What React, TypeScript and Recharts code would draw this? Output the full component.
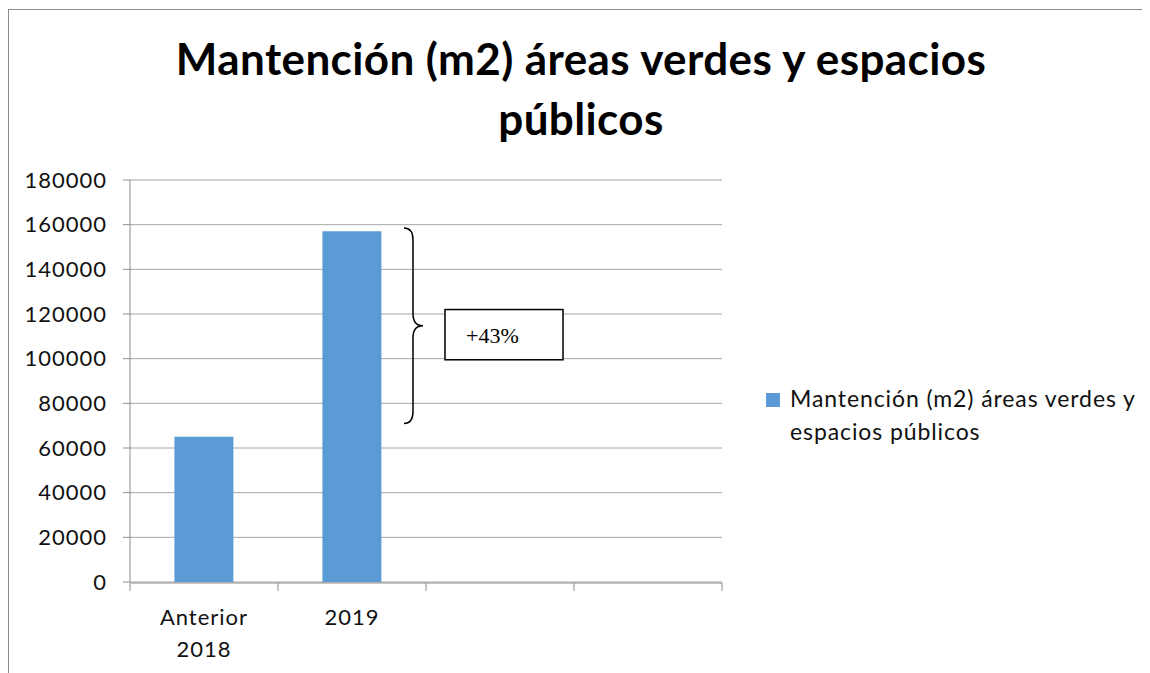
import React from "react";
import {
  BarChart,
  Bar,
  XAxis,
  YAxis,
  CartesianGrid,
  ReferenceArea,
} from "recharts";

const categories = ["Anterior 2018", "2019", "", ""];
const seriesName = "Mantención (m2) áreas verdes y espacios públicos";
const seriesValues = [65000, 157000, null, null];
const yTicks = [0, 20000, 40000, 60000, 80000, 100000, 120000, 140000, 160000, 180000];
const boundaryTicks = [0, 1, 2, 3, 4];
const titleLines = ["Mantención (m2) áreas verdes y espacios", "públicos"];
const legendLines = ["Mantención (m2) áreas verdes y", "espacios públicos"];
const annotationLabel = "+43%";
const braceRange = [71000, 158500];
const boxRange = [99500, 122000];

const BAR_COLOR = "#5B9BD5";
const GRID_COLOR = "#a6a6a6";
const AXIS_COLOR = "#8c8c8c";
const FONT = "Lato, 'Open Sans', sans-serif";

const data = categories.map((c, i) => ({ name: c, value: seriesValues[i], idx: i + 0.5 }));

const CatTick = (props: any) => {
  const { x, y, payload } = props;
  if (!payload || !payload.value) return null;
  const words = String(payload.value).split(" ");
  return (
    <text
      x={x}
      y={y}
      textAnchor="middle"
      fontSize={22}
      fontFamily={FONT}
      fill="#111"
      style={{ letterSpacing: 1 }}
    >
      {words.map((w, i) => (
        <tspan key={i} x={x} y={y + 43 + i * 32}>
          {w}
        </tspan>
      ))}
    </text>
  );
};

const EmptyTick = () => <g />;

const BraceShape = (props: any) => {
  const { x, y, height } = props;
  const top = y;
  const bot = y + height;
  const mid = (top + bot) / 2;
  const tx = x + 274;
  const sx = x + 283;
  const px = x + 293;
  const d = `M${tx},${top} Q${sx},${top} ${sx},${top + 12} L${sx},${mid - 12} Q${sx},${mid} ${px},${mid} Q${sx},${mid} ${sx},${mid + 12} L${sx},${bot - 12} Q${sx},${bot} ${tx},${bot}`;
  return <path d={d} fill="none" stroke="#000" strokeWidth={1.5} />;
};

const BoxShape = (props: any) => {
  const { x, y, height } = props;
  const bx = x + 315;
  const bw = 118;
  return (
    <g>
      <rect x={bx} y={y} width={bw} height={height} fill="#fff" stroke="#000" strokeWidth={1.5} />
      <text
        x={bx + 21}
        y={y + height / 2 + 8}
        fontSize={22}
        fontFamily="'Liberation Serif', 'Times New Roman', serif"
        fill="#000"
      >
        {annotationLabel}
      </text>
    </g>
  );
};

export default function App() {
  return (
    <div
      style={{
        position: "relative",
        width: 1142,
        height: 665,
        fontFamily: FONT,
      }}
    >
      <div
        style={{
          position: "absolute",
          left: -1,
          top: -19,
          fontSize: 20,
          lineHeight: "20px",
          color: "#111",
          fontFamily: FONT,
          whiteSpace: "nowrap",
        }}
      >
        territorial.
      </div>
      <div
        style={{
          position: "absolute",
          left: 0,
          top: 1,
          width: 1142,
          height: 664,
          borderLeft: "1.5px solid #8a8a8a",
          borderTop: "1.5px solid #8a8a8a",
          boxSizing: "border-box",
        }}
      />
      <div
        style={{
          position: "absolute",
          left: 4,
          top: 20,
          width: 1138,
          textAlign: "center",
          fontWeight: 700,
          fontSize: 44,
          letterSpacing: 0.4,
          lineHeight: "60px",
          color: "#000",
          fontFamily: FONT,
        }}
      >
        {titleLines.map((l, i) => (
          <div key={i}>{l}</div>
        ))}
      </div>
      <div style={{ position: "absolute", left: 0, top: 0 }}>
        <BarChart
          width={1142}
          height={665}
          data={data}
          margin={{ top: 172, right: 428, bottom: 89, left: 0 }}
          barCategoryGap="30%"
        >
          <CartesianGrid
            vertical={false}
            stroke={GRID_COLOR}
            xAxisId="cat"
            yAxisId="y"
          />
          <XAxis
            xAxisId="grid"
            type="number"
            dataKey="idx"
            domain={[0, 4]}
            ticks={boundaryTicks}
            interval={0}
            tick={<EmptyTick />}
            tickSize={8}
            height={1}
            allowDataOverflow
            stroke={AXIS_COLOR}
            axisLine={{ stroke: AXIS_COLOR }}
            tickLine={{ stroke: AXIS_COLOR }}
          />
          <XAxis
            xAxisId="cat"
            dataKey="name"
            axisLine={false}
            tickLine={false}
            tickSize={0}
            tickMargin={0}
            height={1}
            interval={0}
            tick={<CatTick />}
          />
          <YAxis
            yAxisId="y"
            width={122}
            domain={[0, 180000]}
            ticks={yTicks}
            interval={0}
            tickSize={7}
            tickMargin={16}
            axisLine={{ stroke: AXIS_COLOR }}
            tickLine={{ stroke: AXIS_COLOR }}
            tick={{ fontSize: 22, fill: "#111", fontFamily: FONT, style: { letterSpacing: 1 } }}
          />
          <Bar
            dataKey="value"
            name={seriesName}
            xAxisId="cat"
            yAxisId="y"
            fill={BAR_COLOR}
            isAnimationActive={false}
          />
          <ReferenceArea
            xAxisId="cat"
            yAxisId="y"
            y1={braceRange[0]}
            y2={braceRange[1]}
            ifOverflow="visible"
            shape={<BraceShape />}
          />
          <ReferenceArea
            xAxisId="cat"
            yAxisId="y"
            y1={boxRange[0]}
            y2={boxRange[1]}
            ifOverflow="visible"
            shape={<BoxShape />}
          />
        </BarChart>
      </div>
      <div
        style={{
          position: "absolute",
          left: 758,
          top: 374,
          width: 384,
          fontSize: 23,
          letterSpacing: 0.9,
          lineHeight: "33px",
          color: "#111",
          fontFamily: FONT,
          whiteSpace: "nowrap",
        }}
      >
        <span
          style={{
            position: "absolute",
            left: 0,
            top: 11,
            width: 14,
            height: 14,
            background: BAR_COLOR,
          }}
        />
        {legendLines.map((l, i) => (
          <div key={i} style={{ marginLeft: 24 }}>
            {l}
          </div>
        ))}
      </div>
    </div>
  );
}
